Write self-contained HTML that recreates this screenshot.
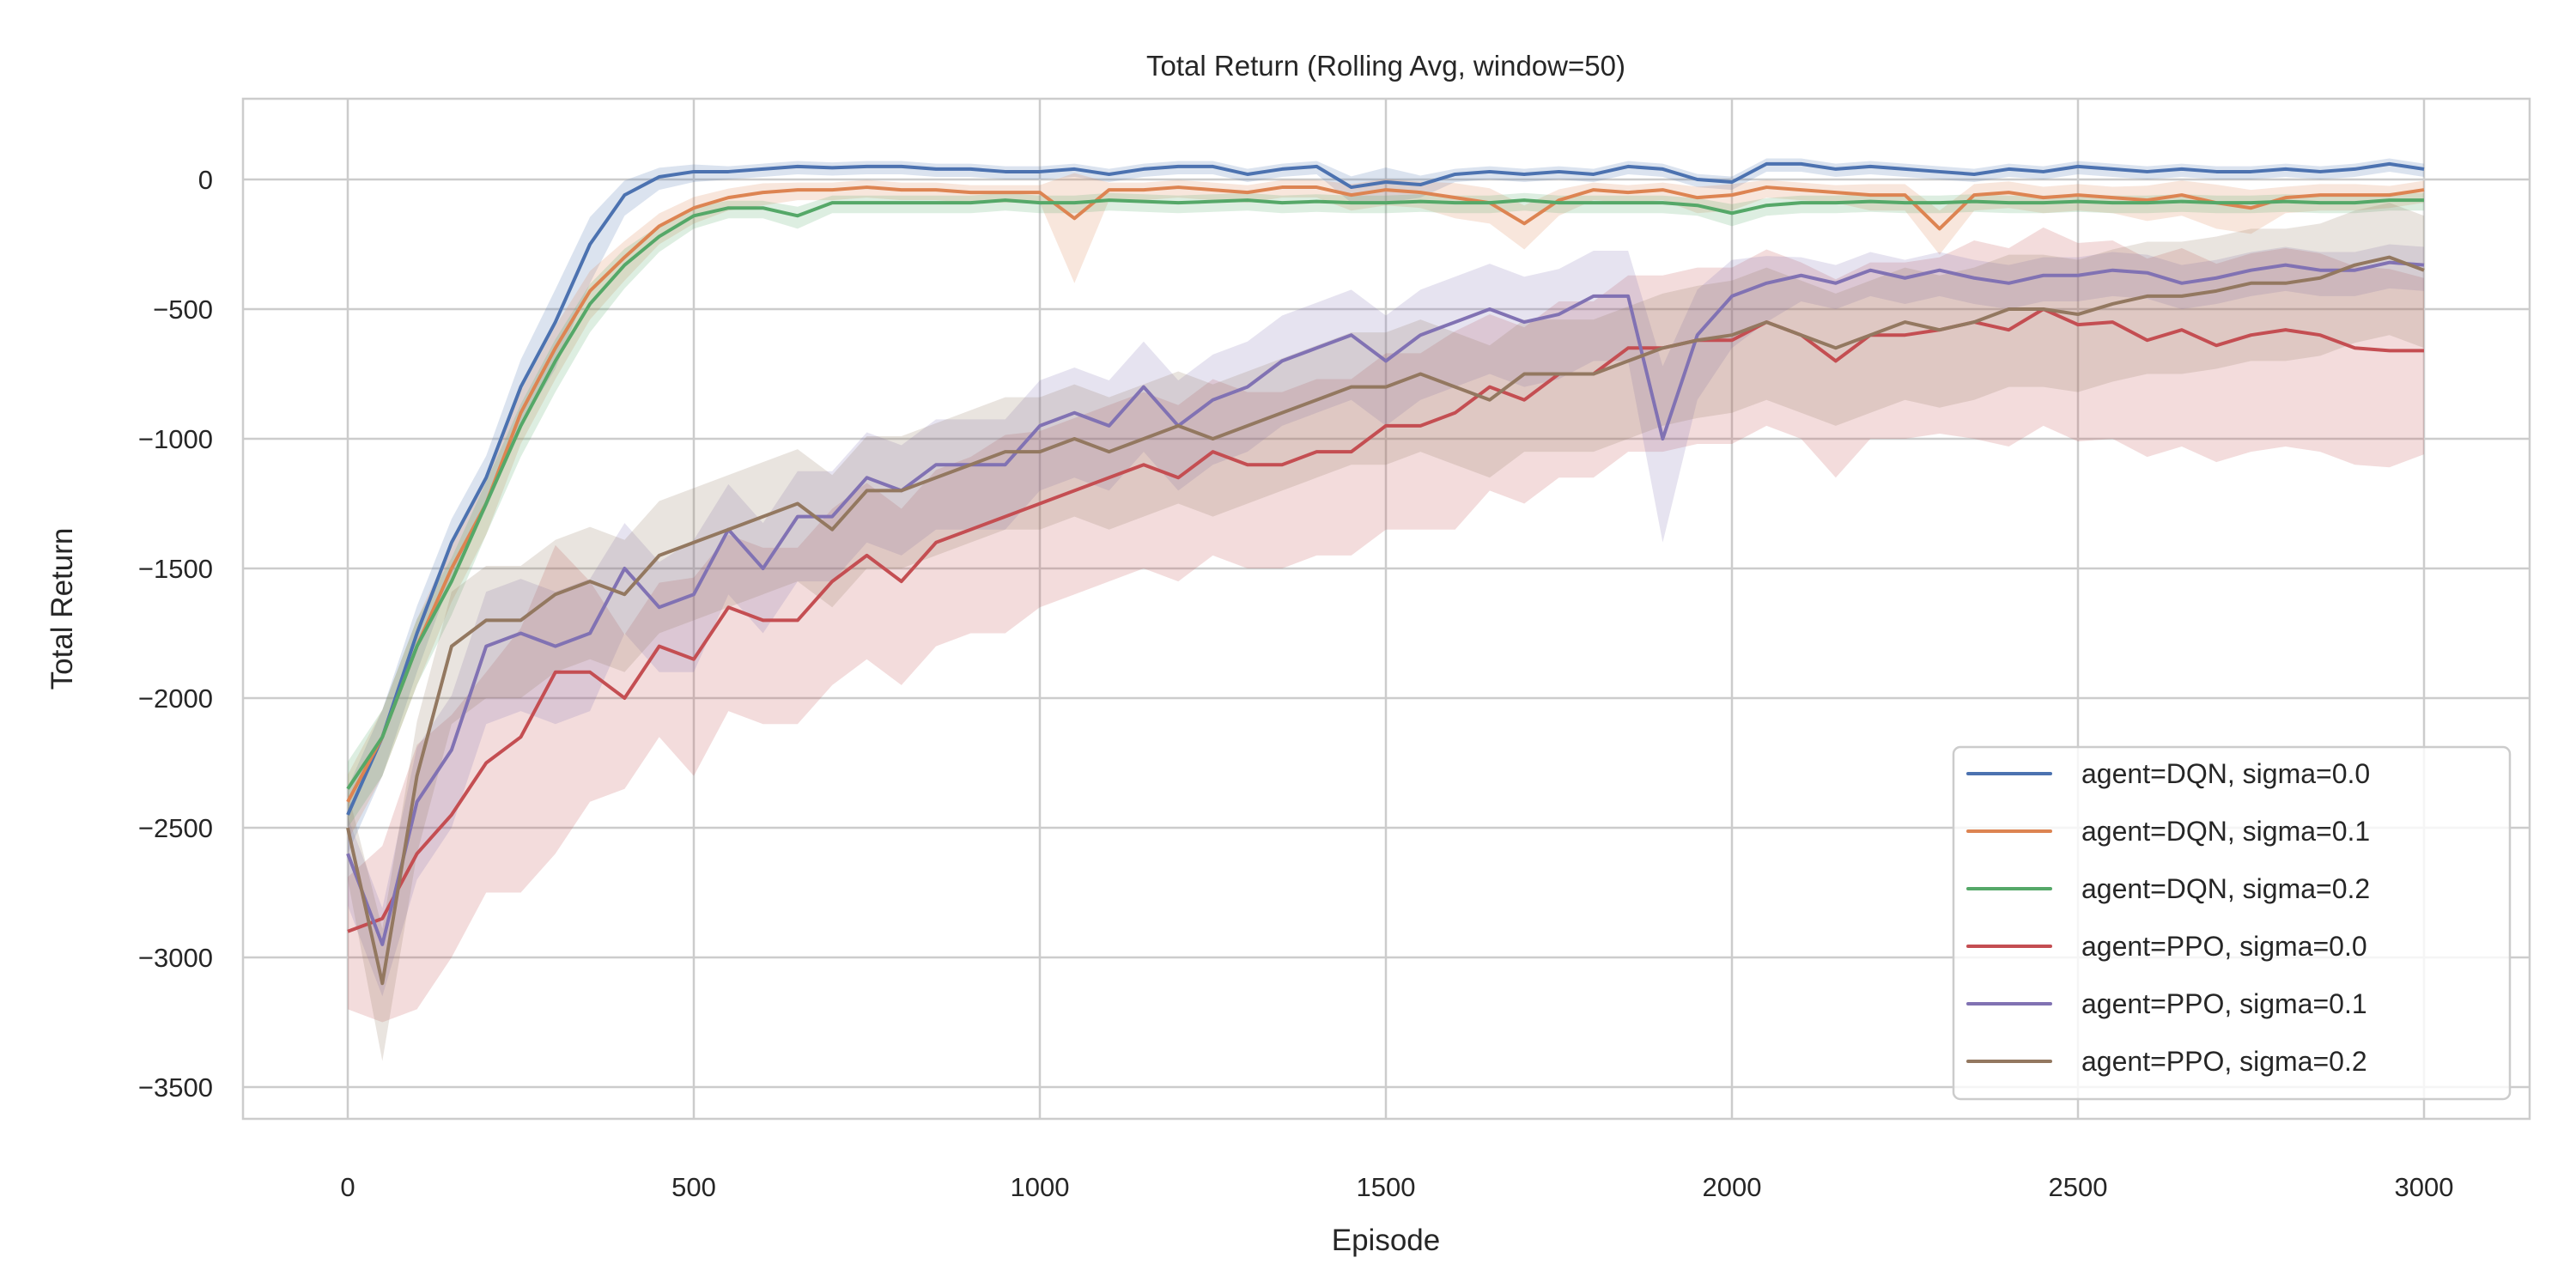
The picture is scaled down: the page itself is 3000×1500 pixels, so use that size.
<!DOCTYPE html>
<html><head><meta charset="utf-8"><style>
html,body{margin:0;padding:0;background:#fff;}
svg{display:block;font-family:"Liberation Sans",Arial,sans-serif;}
</style></head><body>
<svg id="chart" width="3000" height="1500" viewBox="0 0 3000 1500" xmlns="http://www.w3.org/2000/svg">
<rect width="3000" height="1500" fill="#fff"/>
<g id="grid"></g>
<g id="bands"></g>
<g id="lines"></g>
<rect x="283" y="115" width="2663" height="1188" fill="none" stroke="#cccccc" stroke-width="2.5"/>
<g id="ticks"></g>
<text x="1614" y="88" font-size="33" text-anchor="middle" fill="#262626">Total Return (Rolling Avg, window=50)</text>
<text x="1614" y="1456" font-size="35" text-anchor="middle" fill="#262626">Episode</text>
<text transform="translate(84,709) rotate(-90)" font-size="35" text-anchor="middle" fill="#262626">Total Return</text>
<g id="legend"></g>
</svg>
<script>
const episodes=[0,50,100,150,200,250,300,350,400,450,500,550,600,650,700,750,800,850,900,950,1000,1050,1100,1150,1200,1250,1300,1350,1400,1450,1500,1550,1600,1650,1700,1750,1800,1850,1900,1950,2000,2050,2100,2150,2200,2250,2300,2350,2400,2450,2500,2550,2600,2650,2700,2750,2800,2850,2900,2950,3000];
const labels=["agent=DQN, sigma=0.0","agent=DQN, sigma=0.1","agent=DQN, sigma=0.2","agent=PPO, sigma=0.0","agent=PPO, sigma=0.1","agent=PPO, sigma=0.2"];
const dqn0=[-2450,-2150,-1750,-1400,-1150,-800,-550,-250,-60,10,30,30,40,50,45,50,50,40,40,30,30,40,20,40,50,50,20,40,50,-30,-10,-20,20,30,20,30,20,50,40,0,-10,60,60,40,50,40,30,20,40,30,50,40,30,40,30,30,40,30,40,60,40];
const dqn1=[-2400,-2150,-1800,-1500,-1250,-900,-650,-430,-300,-180,-110,-70,-50,-40,-40,-30,-40,-40,-50,-50,-50,-150,-40,-40,-30,-40,-50,-30,-30,-60,-40,-50,-70,-90,-170,-80,-40,-50,-40,-70,-60,-30,-40,-50,-60,-60,-190,-60,-50,-70,-60,-70,-80,-60,-90,-110,-70,-60,-60,-60,-40];
const dqn2=[-2350,-2150,-1800,-1550,-1250,-950,-700,-480,-330,-220,-140,-110,-110,-140,-90,-90,-90,-90,-90,-80,-90,-90,-80,-85,-90,-85,-80,-90,-85,-90,-90,-85,-90,-90,-80,-90,-90,-90,-90,-100,-130,-100,-90,-90,-85,-90,-90,-85,-90,-90,-85,-90,-90,-85,-90,-90,-85,-90,-90,-80,-80];
const ppo0=[-2900,-2850,-2600,-2450,-2250,-2150,-1900,-1900,-2000,-1800,-1850,-1650,-1700,-1700,-1550,-1450,-1550,-1400,-1350,-1300,-1250,-1200,-1150,-1100,-1150,-1050,-1100,-1100,-1050,-1050,-950,-950,-900,-800,-850,-750,-750,-650,-650,-620,-620,-550,-600,-700,-600,-600,-580,-550,-580,-500,-560,-550,-620,-580,-640,-600,-580,-600,-650,-660,-660];
const ppo1=[-2600,-2950,-2400,-2200,-1800,-1750,-1800,-1750,-1500,-1650,-1600,-1350,-1500,-1300,-1300,-1150,-1200,-1100,-1100,-1100,-950,-900,-950,-800,-950,-850,-800,-700,-650,-600,-700,-600,-550,-500,-550,-520,-450,-450,-1000,-600,-450,-400,-370,-400,-350,-380,-350,-380,-400,-370,-370,-350,-360,-400,-380,-350,-330,-350,-350,-320,-330];
const ppo2=[-2500,-3100,-2300,-1800,-1700,-1700,-1600,-1550,-1600,-1450,-1400,-1350,-1300,-1250,-1350,-1200,-1200,-1150,-1100,-1050,-1050,-1000,-1050,-1000,-950,-1000,-950,-900,-850,-800,-800,-750,-800,-850,-750,-750,-750,-700,-650,-620,-600,-550,-600,-650,-600,-550,-580,-550,-500,-500,-520,-480,-450,-450,-430,-400,-400,-380,-330,-300,-350];
const spread0=[150,150,150,130,120,150,180,150,80,50,40,30,30,30,30,30,30,30,30,30,30,30,30,30,30,30,30,30,30,60,80,50,30,30,30,30,30,30,30,30,30,30,30,30,30,30,30,30,30,30,30,30,30,30,30,30,30,30,30,30,30];
const spread1=[150,150,150,130,120,120,120,110,90,70,60,50,50,40,40,40,40,40,40,40,40,250,40,40,40,40,40,40,40,60,60,60,80,80,100,60,40,40,40,60,60,40,40,40,60,60,100,60,60,60,60,60,80,80,100,100,60,60,60,50,50];
const spread2=[150,150,150,130,120,120,120,110,90,60,50,40,40,50,40,40,40,40,40,40,40,40,40,40,40,40,40,40,40,40,40,40,40,40,40,40,40,40,40,40,50,40,40,40,40,40,40,40,40,40,40,40,40,40,40,40,40,40,40,40,40];
const spread3=[300,400,600,550,500,600,700,500,350,350,450,400,400,400,400,400,400,400,400,450,400,400,400,400,400,400,400,400,400,400,400,400,450,400,400,400,400,400,400,400,400,400,400,450,400,400,400,450,450,450,450,450,450,450,450,450,450,450,450,450,400];
const spread4=[200,200,300,300,300,300,300,300,250,250,300,250,250,250,250,250,250,250,250,250,250,250,250,250,250,250,250,250,250,250,250,250,250,250,250,250,250,250,400,250,200,150,100,100,100,100,100,100,100,100,100,100,100,100,100,100,100,100,100,100,100];
const spread5=[200,300,300,300,300,300,300,300,300,300,300,300,300,300,300,300,300,300,300,300,300,300,300,300,300,300,300,300,300,300,300,300,300,300,300,300,300,300,300,300,300,300,300,300,300,300,300,300,300,300,300,300,300,300,300,300,300,300,300,300,300];
const xTicks=[0,500,1000,1500,2000,2500,3000];
const yTicks=[0,-500,-1000,-1500,-2000,-2500,-3000,-3500];

const colors=["#4c72b0","#dd8452","#55a868","#c44e52","#8172b3","#937860"];
const series=[dqn0,dqn1,dqn2,ppo0,ppo1,ppo2];
const spreads=[spread0,spread1,spread2,spread3,spread4,spread5];
const X=e=>405+e*(2823-405)/3000;
const Y=v=>209-v*(1266-209)/3500;
const NS="http://www.w3.org/2000/svg";
function mk(tag,attrs,parent){const el=document.createElementNS(NS,tag);for(const k in attrs)el.setAttribute(k,attrs[k]);parent.appendChild(el);return el;}
const grid=document.getElementById('grid'),ticks=document.getElementById('ticks');
xTicks.forEach(t=>{
  const l=mk('line',{x1:X(t),x2:X(t),y1:115,y2:1303,stroke:'#cccccc','stroke-width':2.5},grid);
  
  
  const tx=mk('text',{x:X(t),y:1393,'font-size':31,'text-anchor':'middle',fill:'#262626'},ticks);
  tx.textContent=String(t);
  
  
});
yTicks.forEach(t=>{
  const l=mk('line',{x1:283,x2:2946,y1:Y(t),y2:Y(t),stroke:'#cccccc','stroke-width':2.5},grid);
  
  
  const tx=mk('text',{x:248,y:Y(t)+11,'font-size':31,'text-anchor':'end',fill:'#262626'},ticks);
  tx.textContent=String(t).replace('-','\u2212');
  
  
});
const bands=document.getElementById('bands'),lines=document.getElementById('lines');
series.forEach((s,i)=>{
  const sp=spreads[i];
  let up=episodes.map((e,j)=>X(e)+','+Y(s[j]+sp[j]*0.7));
  let lo=episodes.map((e,j)=>X(e)+','+Y(s[j]-sp[j])).reverse();
  const b=mk('polygon',{points:up.concat(lo).join(' '),fill:colors[i],'fill-opacity':0.2,stroke:'none'},bands);
  
  
});
series.forEach((s,i)=>{
  const p=mk('polyline',{points:episodes.map((e,j)=>X(e)+','+Y(s[j])).join(' '),fill:'none',stroke:colors[i],'stroke-width':4,'stroke-linejoin':'round'},lines);
  
  
});
const leg=document.getElementById('legend');
const box=mk('rect',{x:2275,y:870,width:648,height:410,rx:8,fill:'#ffffff','fill-opacity':0.8,stroke:'#cccccc','stroke-width':2.5},leg);


labels.forEach((lab,i)=>{
  const cy=901+i*67;
  const ln=mk('line',{x1:2292,x2:2388,y1:cy,y2:cy,stroke:colors[i],'stroke-width':4,'stroke-linecap':'round'},leg);
  
  
  const t=mk('text',{x:2424,y:cy+11,'font-size':32,fill:'#262626'},leg);
  t.textContent=lab;
  
  
});
</script>
</body></html>
